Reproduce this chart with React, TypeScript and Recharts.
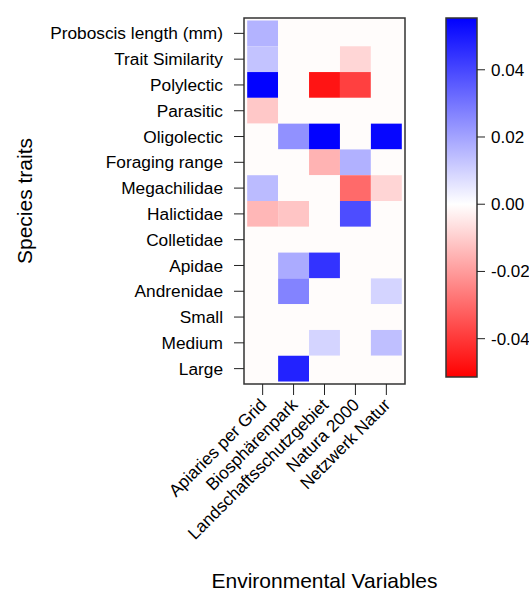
import React from 'react';
import { ScatterChart, Scatter, XAxis, YAxis, ReferenceArea, BarChart } from 'recharts';

const variables = ['Apiaries per Grid', 'Biosphärenpark', 'Landschaftsschutzgebiet', 'Natura 2000', 'Netzwerk Natur'];
const traits = [
  'Proboscis length (mm)', 'Trait Similarity', 'Polylectic', 'Parasitic', 'Oligolectic',
  'Foraging range', 'Megachilidae', 'Halictidae', 'Colletidae', 'Apidae', 'Andrenidae',
  'Small', 'Medium', 'Large',
];
// one array per environmental variable, values in trait order (top to bottom)
const apiaries = [0.0166, 0.013, 0.055, -0.011, 0, 0, 0.0147, -0.0145, 0, 0, 0, 0, 0, 0];
const biosphere = [0, 0, 0, 0, 0.024, 0, 0, -0.0117, 0, 0.0183, 0.027, 0, 0, 0.048];
const landschaft = [0, 0, -0.0474, 0, 0.055, -0.0154, 0, 0, 0, 0.0443, 0, 0, 0.0094, 0];
const natura = [0, -0.0082, -0.0386, 0, 0, 0.017, -0.03, 0.0386, 0, 0, 0, 0, 0, 0];
const netzwerk = [0, 0, 0, 0, 0.054, 0, -0.0084, 0, 0, 0, 0.0094, 0, 0.0139, 0];
const keyTicks = [-0.04, -0.02, 0, 0.02, 0.04];
const keyMin = -0.0514;
const keyMax = 0.0554;

const columns = [apiaries, biosphere, landschaft, natura, netzwerk];
const FONT = '"Liberation Sans", Arial, sans-serif';
const ZERO = '#FFFCFB';

function colorFor(v: number): string {
  if (v === 0) return ZERO;
  if (v > 0) {
    const t = Math.min(1, v / keyMax);
    const c = Math.round(255 * (1 - t));
    return `rgb(${c},${c},255)`;
  }
  const t = Math.min(1, v / keyMin);
  const c = Math.round(255 * (1 - t));
  return `rgb(255,${c},${c})`;
}

const nRows = traits.length;
const cells = columns.flatMap((col, ci) =>
  col.map((value, ri) => ({ x: ci + 1, y: nRows - ri, value }))
);

const xDomain: [number, number] = [0.397, variables.length + 0.603];
const yDomain: [number, number] = [0.404, nRows + 0.596];
const xTicks = variables.map((_, i) => i + 1);
const yTicks = traits.map((_, i) => i + 1);

const XTick = (props: any) => {
  const { x, y, payload } = props;
  const label = variables[payload.value - 1];
  const ax = x + 5;
  const ay = y + 9;
  return (
    <text x={ax} y={ay} textAnchor="end" fill="#000" fontSize={17.3} fontFamily={FONT}
      transform={`rotate(-45, ${ax}, ${ay})`}>
      {label}
    </text>
  );
};

const YTick = (props: any) => {
  const { x, y, payload } = props;
  const label = traits[nRows - payload.value];
  return (
    <text x={x - 9} y={y} dy="0.35em" textAnchor="end" fill="#000" fontSize={17.3} fontFamily={FONT}>
      {label}
    </text>
  );
};

const zeroFrac = keyMax / (keyMax - keyMin);

export default function App() {
  return (
    <div style={{ position: 'absolute', left: 0, top: 0, width: 529, height: 592, background: '#fff' }}>
      <div style={{ position: 'absolute', left: 0, top: 0 }}>
        <ScatterChart width={529} height={592} margin={{ top: 0, right: 0, bottom: 0, left: 0 }}>
          <XAxis xAxisId="b" type="number" dataKey="x" domain={xDomain} ticks={xTicks} interval={0}
            allowDataOverflow orientation="bottom" height={208} axisLine={false}
            tickLine={{ stroke: '#222' }} tickSize={11} tick={<XTick />}
            label={{ value: 'Environmental Variables', position: 'insideBottom', offset: 4, fill: '#000', fontSize: 21, fontFamily: FONT }} />
          <XAxis xAxisId="t" type="number" dataKey="x" domain={xDomain} ticks={xTicks} interval={0}
            allowDataOverflow orientation="top" height={18} axisLine={false}
            tickLine={{ stroke: '#222' }} tickSize={10} tick={false} />
          <YAxis yAxisId="l" type="number" dataKey="y" domain={yDomain} ticks={yTicks} interval={0}
            allowDataOverflow orientation="left" width={244} axisLine={false}
            tickLine={{ stroke: '#222' }} tickSize={10} tick={<YTick />}
            label={{ value: 'Species traits', angle: -90, position: 'insideLeft', offset: 25, fill: '#000', fontSize: 21, fontFamily: FONT, style: { textAnchor: 'middle' } }} />
          <YAxis yAxisId="r" type="number" dataKey="y" domain={yDomain} ticks={yTicks} interval={0}
            allowDataOverflow orientation="right" width={124} axisLine={false}
            tickLine={{ stroke: '#222' }} tickSize={11} tick={false} />
          <ReferenceArea xAxisId="b" yAxisId="l" x1={xDomain[0]} x2={xDomain[1]} y1={yDomain[0]} y2={yDomain[1]}
            fill={ZERO} fillOpacity={1} stroke="none" ifOverflow="visible" />
          {cells.map((c, i) => (
            <ReferenceArea key={i} xAxisId="b" yAxisId="l" x1={c.x - 0.5} x2={c.x + 0.5} y1={c.y - 0.5} y2={c.y + 0.5}
              fill={colorFor(c.value)} fillOpacity={1} stroke="none" ifOverflow="visible" />
          ))}
          <ReferenceArea xAxisId="b" yAxisId="l" x1={xDomain[0]} x2={xDomain[1]} y1={yDomain[0]} y2={yDomain[1]}
            fill="none" fillOpacity={0} stroke="#333" strokeWidth={1.5} ifOverflow="visible" />
          <Scatter data={cells} xAxisId="b" yAxisId="l" dataKey="y" isAnimationActive={false} shape={() => <g />} />
          <Scatter data={cells} xAxisId="t" yAxisId="r" dataKey="y" isAnimationActive={false} shape={() => <g />} />
        </ScatterChart>
      </div>
      <div style={{ position: 'absolute', left: 0, top: 0 }}>
        <BarChart width={529} height={592} margin={{ top: 18, right: 0, bottom: 215, left: 446 }} data={[{ k: 'key', v: 0 }]}>
          <defs>
            <linearGradient id="keyGrad" x1="0" y1="0" x2="0" y2="1">
              <stop offset="0" stopColor="#0000FF" />
              <stop offset={zeroFrac} stopColor="#FFFFFF" />
              <stop offset="1" stopColor="#FF0000" />
            </linearGradient>
          </defs>
          <XAxis dataKey="k" hide />
          <YAxis orientation="right" type="number" domain={[keyMin, keyMax]} ticks={keyTicks} interval={0}
            allowDataOverflow width={52} axisLine={false} tickLine={{ stroke: '#222' }} tickSize={8} tickMargin={6}
            tickFormatter={(v: number) => v.toFixed(2)}
            tick={{ fill: '#000', fontSize: 17, fontFamily: FONT }} />
          <ReferenceArea y1={keyMin} y2={keyMax} fill="url(#keyGrad)" fillOpacity={1} stroke="#333" strokeWidth={1.5} ifOverflow="visible" />
        </BarChart>
      </div>
    </div>
  );
}
